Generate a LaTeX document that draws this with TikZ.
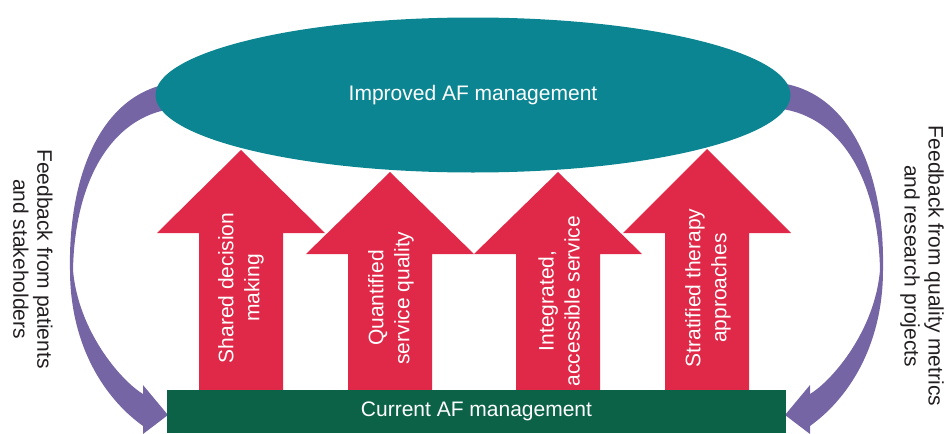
\documentclass[tikz,border=0pt]{standalone}
\usepackage{fontspec}
\setmainfont{Liberation Sans}
\usetikzlibrary{shapes.geometric}
\definecolor{tealc}{RGB}{11,133,145}
\definecolor{redc}{RGB}{224,41,72}
\definecolor{greenc}{RGB}{11,98,70}
\definecolor{purpc}{RGB}{118,101,165}
\definecolor{textc}{RGB}{35,31,32}
\tikzset{
  mainfont/.style={font=\fontsize{21}{25}\selectfont},
  arrtext/.style={text=white, rotate=90, align=center, inner sep=0pt,
    font=\fontsize{21}{26}\selectfont},
  sidetext/.style={text=textc, rotate=-90, align=center, inner sep=0pt,
    font=\fontsize{21}{24}\selectfont},
  redfill/.style={fill=redc},
  purpfill/.style={fill=purpc},
}
\newcommand\drawUpArrow[3]{% center x, tip y, head base y
  \fill[redfill] (#1-42,390) -- (#1-42,#3) -- (#1-84,#3) -- (#1,#2)
    -- (#1+84,#3) -- (#1+42,#3) -- (#1+42,390) -- cycle;}
\newcommand\drawFeedback[1]{% mirrored via xscale
  \begin{scope}[#1]
  \fill[purpfill] (185,82) .. controls (105,84) and (68,170) .. (70,270)
    .. controls (70,340) and (100,395) .. (143,426)
    -- (143,394) .. controls (120,380) and (78,330) .. (73,270)
    .. controls (75,170) and (120,108) .. (185,108) -- cycle;
  \fill[purpfill] (143,385) -- (168,415) -- (143,434) -- cycle;
  \end{scope}}
\begin{document}
\begin{tikzpicture}[x=1pt,y=-1pt]
\useasboundingbox (0,0) rectangle (946,434);
% purple feedback arrows
\drawFeedback{}
\drawFeedback{xshift=953pt, xscale=-1}
% red arrows
\drawUpArrow{241}{150}{233}
\drawUpArrow{390}{172}{254}
\drawUpArrow{558}{172}{254}
\drawUpArrow{707}{149}{233}
% main nodes
\node[ellipse, fill=tealc, minimum width=635pt, minimum height=155pt,
  inner sep=0pt, text=white, mainfont] (imp) at (473,95) {Improved AF management};
\node[rectangle, fill=greenc, minimum width=619pt, minimum height=43pt,
  inner sep=0pt, text=white, mainfont] (cur) at (476.5,411.5) {Current AF management};
% arrow labels
\node[arrtext] (a1) at (241,288) {Shared decision\\making};
\node[arrtext] (a2) at (391,298) {Quantified\\service quality};
\node[arrtext] (a3) at (559,301) {Integrated,\\accessible service};
\node[arrtext] (a4) at (708,288) {Stratified therapy\\approaches};
% side labels
\node[sidetext] (fl) at (33,259) {Feedback from patients\\and stakeholders};
\node[sidetext] (fr) at (922,266) {Feedback from quality metrics\\and research projects};
\end{tikzpicture}
\end{document}
